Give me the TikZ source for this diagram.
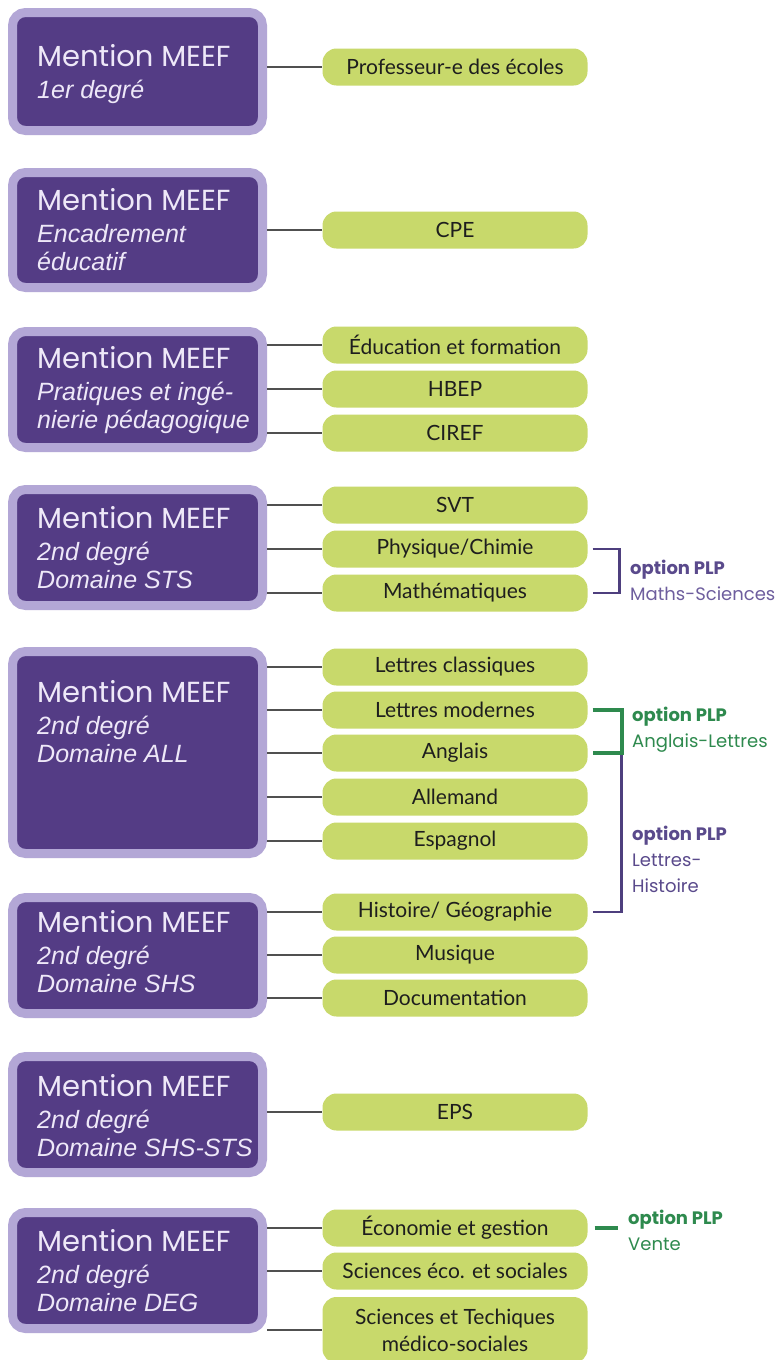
\documentclass[tikz,border=0pt]{standalone}
\usepackage{fontspec}
\setmainfont{Lato}
\newfontfamily\titrefont{Poppins}
\newfontfamily\soustitrefont{Liberation Sans}
\usetikzlibrary{positioning}

\definecolor{violetfonce}{HTML}{543C85}
\definecolor{lavande}{HTML}{B3A7D6}
\definecolor{blanccasse}{HTML}{EEE8F8}
\definecolor{vertpomme}{HTML}{C8D96B}
\definecolor{noirtexte}{HTML}{1E1E1E}
\definecolor{grislien}{HTML}{505050}
\definecolor{violetcrochet}{HTML}{4E3F7E}
\definecolor{violetoption}{HTML}{5A4A8C}
\definecolor{violetclair}{HTML}{6E5E9E}
\definecolor{vertcrochet}{HTML}{2E8A4E}

\newcommand\meef{{\titrefont\upshape\fontsize{29}{30}\selectfont Mention MEEF}}

\begin{document}
\begin{tikzpicture}[x=1pt,y=-1pt,
    mention/.style={draw=lavande, line width=9pt, fill=violetfonce,
        rounded corners=13pt, minimum width=250pt, inner sep=0pt},
    titre/.style={anchor=base west, align=left, inner sep=0pt, text=blanccasse,
        font=\soustitrefont\itshape\fontsize{25}{28}\selectfont},
    parcours/.style={fill=vertpomme, rounded corners=14pt, minimum width=265pt,
        minimum height=37pt, inner sep=0pt, text=noirtexte,
        font=\fontsize{21}{27}\selectfont},
    lien/.style={draw=grislien, line width=2.5pt},
    crochetv/.style={draw=violetcrochet, line width=2.5pt},
    crochetg/.style={draw=vertcrochet, line width=4pt},
    option/.style={anchor=base west, align=left, inner sep=0pt,
        font=\titrefont\fontsize{18}{26}\selectfont}]
  \useasboundingbox[fill=white] (0,0) rectangle (775,1360);

  % mentions
  \node[mention, minimum height=118pt] (mdeg1) at (137.5,71.5) {};
  \node[mention, minimum height=115pt] (menca) at (137.5,230) {};
  \node[mention, minimum height=116pt] (mpip)  at (137.5,389.5) {};
  \node[mention, minimum height=116pt] (msts)  at (137.5,547.5) {};
  \node[mention, minimum height=202pt] (mall)  at (137.5,752.5) {};
  \node[mention, minimum height=116pt] (mshs)  at (137.5,955.5) {};
  \node[mention, minimum height=116pt] (msst)  at (137.5,1114.5) {};
  \node[mention, minimum height=116pt] (mdeg)  at (137.5,1270.5) {};

  % base = derniere ligne
  \node[titre] (tdeg1) at (37,98)   {\meef\\[4pt]1er degré};
  \node[titre] (tenca) at (37,270)  {\meef\\[4pt]Encadrement\\éducatif};
  \node[titre] (tpip)  at (37,428)  {\meef\\[4pt]Pratiques et ingé-\\nierie pédagogique};
  \node[titre] (tsts)  at (37,588)  {\meef\\[4pt]2nd degré\\Domaine STS};
  \node[titre] (tall)  at (37,762)  {\meef\\[4pt]2nd degré\\Domaine ALL};
  \node[titre] (tshs)  at (37,992)  {\meef\\[4pt]2nd degré\\Domaine SHS};
  \node[titre] (tsst)  at (37,1156) {\meef\\[4pt]2nd degré\\Domaine SHS-STS};
  \node[titre] (tdeg)  at (37,1311) {\meef\\[4pt]2nd degré\\Domaine DEG};

  % parcours
  \node[parcours] (pe)    at (455,67)   {Professeur-e des écoles};
  \node[parcours] (cpe)   at (455,230)  {CPE};
  \node[parcours] (edfo)  at (455,345)  {Éducation et formation};
  \node[parcours] (hbep)  at (455,389)  {HBEP};
  \node[parcours] (ciref) at (455,433)  {CIREF};
  \node[parcours] (svt)   at (455,505)  {SVT};
  \node[parcours] (phch)  at (455,549)  {Physique/Chimie};
  \node[parcours] (math)  at (455,593)  {Mathématiques};
  \node[parcours] (lcla)  at (455,667)  {Lettres classiques};
  \node[parcours] (lmod)  at (455,710)  {Lettres modernes};
  \node[parcours] (angl)  at (455,753)  {Anglais};
  \node[parcours] (alle)  at (455,797)  {Allemand};
  \node[parcours] (espa)  at (455,841)  {Espagnol};
  \node[parcours] (hige)  at (455,912)  {Histoire/ Géographie};
  \node[parcours] (musi)  at (455,955)  {Musique};
  \node[parcours] (docu)  at (455,998)  {Documentation};
  \node[parcours] (eps)   at (455,1112) {EPS};
  \node[parcours] (ecog)  at (455,1228) {Économie et gestion};
  \node[parcours] (seso)  at (455,1271) {Sciences éco. et sociales};
  \node[parcours, minimum height=66pt, align=center] (stms) at (455,1330)
      {Sciences et Techiques\\médico-sociales};

  % liens
  \foreach \m/\p in {mdeg1/pe, menca/cpe, mpip/edfo, mpip/hbep, mpip/ciref,
      msts/svt, msts/phch, msts/math, mall/lcla, mall/lmod, mall/angl,
      mall/alle, mall/espa, mshs/hige, mshs/musi, mshs/docu, msst/eps,
      mdeg/ecog, mdeg/seso, mdeg/stms}
    \draw[lien] (\m.east |- \p) -- (\p.west);

  % options PLP
  \draw[crochetv] ([xshift=5pt]phch.east) -| ([xshift=32pt]math.east)
      -- ([xshift=5pt]math.east);
  \draw[crochetv] ([xshift=34pt]angl.east) |- ([xshift=5pt]hige.east);
  \draw[crochetg] ([xshift=5pt]lmod.east) -| ([xshift=34pt]angl.east)
      -- ([xshift=5pt]angl.east);
  \draw[crochetg] ([xshift=7pt]ecog.east) -- ++(23,0);

  \node[option, text=violetoption] (plpms) at (630,600)
      {\bfseries option PLP\\{\color{violetclair}Maths-Sciences}};
  \node[option, text=vertcrochet] (plpal) at (632,747)
      {\bfseries option PLP\\\mdseries Anglais-Lettres};
  \node[option, text=violetoption] (plplh) at (632,892)
      {\bfseries option PLP\\\mdseries Lettres-\\Histoire};
  \node[option, text=vertcrochet] (plpv) at (628,1250)
      {\bfseries option PLP\\\mdseries Vente};
\end{tikzpicture}
\end{document}
